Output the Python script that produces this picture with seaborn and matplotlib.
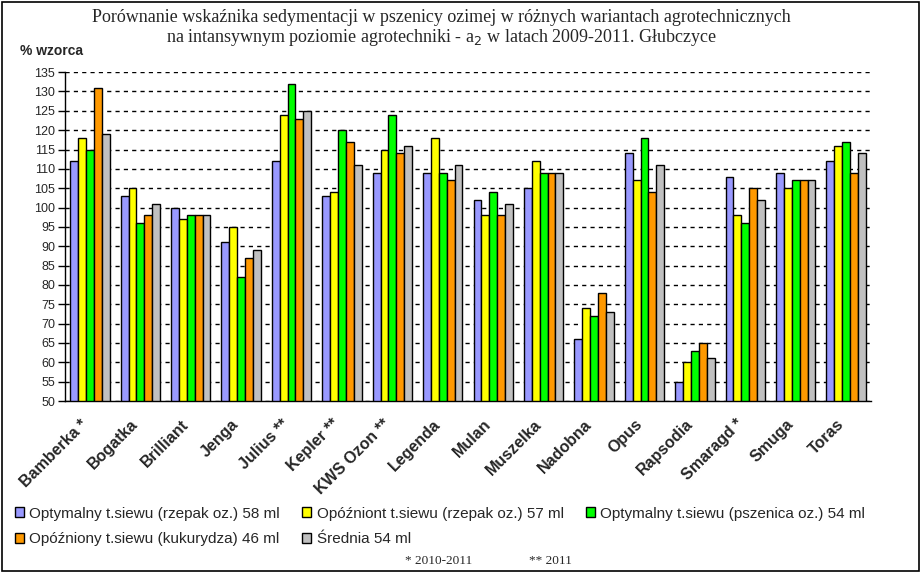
import pandas as pd
import matplotlib
matplotlib.use('Agg')
import matplotlib.pyplot as plt
import matplotlib.patches as mpatches
from matplotlib.transforms import ScaledTranslation
import seaborn as sns

# dane (% wzorca)
odmiany = ['Bamberka *', 'Bogatka', 'Brilliant', 'Jenga', 'Julius **', 'Kepler **',
           'KWS Ozon **', 'Legenda', 'Mulan', 'Muszelka', 'Nadobna', 'Opus',
           'Rapsodia', 'Smaragd *', 'Smuga', 'Toras']
warianty = ['Optymalny t.siewu (rzepak oz.) 58 ml',
            'Opóźniont t.siewu (rzepak oz.) 57 ml',
            'Optymalny t.siewu (pszenica oz.) 54 ml',
            'Opóźniony t.siewu (kukurydza) 46 ml',
            'Średnia 54 ml']
opt_rzepak = [112, 103, 100, 91, 112, 103, 109, 109, 102, 105, 66, 114, 55, 108, 109, 112]
opoz_rzepak = [118, 105, 97, 95, 124, 104, 115, 118, 98, 112, 74, 107, 60, 98, 105, 116]
opt_pszenica = [115, 96, 98, 82, 132, 120, 124, 109, 104, 109, 72, 118, 63, 96, 107, 117]
opoz_kukurydza = [131, 98, 98, 87, 123, 117, 114, 107, 98, 109, 78, 104, 65, 105, 107, 109]
srednia = [119, 101, 98, 89, 125, 111, 116, 111, 101, 109, 73, 111, 61, 102, 107, 114]
y_ticks = list(range(50, 136, 5))

kolory = ['#9999FF', '#FFFF00', '#00FF00', '#FF9900', '#C0C0C0']

serie = [opt_rzepak, opoz_rzepak, opt_pszenica, opoz_kukurydza, srednia]
rows = []
for wariant, wartosci in zip(warianty, serie):
    for odm, v in zip(odmiany, wartosci):
        rows.append({'odmiana': odm, 'wariant': wariant, 'wartosc': v})
df = pd.DataFrame(rows)

sns.set_style('white')
plt.rcParams['font.family'] = ['Liberation Sans', 'DejaVu Sans']

fig = plt.figure(figsize=(9.24, 5.77), dpi=100)
ax = fig.add_axes([0.070, 0.305, 0.873, 0.570])

sns.barplot(data=df, x='odmiana', y='wartosc', hue='wariant', palette=kolory,
            order=odmiany, hue_order=warianty, edgecolor='black', linewidth=1,
            width=0.78, gap=0, saturation=1, legend=False, ax=ax)

ax.set_ylim(50, 135)
ax.set_xlim(-0.5, len(odmiany) - 0.5)
ax.set_yticks(y_ticks)
ax.set_yticklabels([str(t) for t in y_ticks], fontsize=9)
ax.yaxis.grid(True, color='black', linestyle=(0, (3, 3)), linewidth=1)
ax.set_axisbelow(True)
ax.set_xlabel('')
ax.set_ylabel('')
for s in ['top', 'right']:
    ax.spines[s].set_visible(False)
for s in ['left', 'bottom']:
    ax.spines[s].set_color('black')
    ax.spines[s].set_linewidth(1)

# etykiety odmian i znaczniki między grupami
ax.set_xticks(range(len(odmiany)))
ax.set_xticklabels(odmiany, rotation=45, ha='right', va='top', rotation_mode='anchor',
                   fontsize=11.5, fontweight='bold')
ax.tick_params(axis='x', which='major', length=0, pad=4)
ax.set_xticks([i - 0.5 for i in range(len(odmiany) + 1)], minor=True)
ax.tick_params(axis='x', which='minor', length=5, width=1, color='black', direction='out')
ax.tick_params(axis='y', length=5, width=1, color='black', direction='out', left=True, pad=2)
przesuniecie = ScaledTranslation(-0.10, -0.10, fig.dpi_scale_trans)
for lab in ax.get_xticklabels():
    lab.set_transform(lab.get_transform() + przesuniecie)

fig.text(0.478, 0.970, 'Porównanie wskaźnika sedymentacji w pszenicy ozimej w różnych wariantach agrotechnicznych',
         ha='center', va='center', fontsize=13, family='Liberation Serif')
fig.text(0.478, 0.935, 'na intansywnym poziomie agrotechniki - a$_2$ w latach 2009-2011. Głubczyce',
         ha='center', va='center', fontsize=13, family='Liberation Serif')
fig.text(0.022, 0.912, '% wzorca', ha='left', va='center', fontsize=10, fontweight='bold')

uchwyty = [mpatches.Patch(facecolor=c, edgecolor='black', linewidth=1, label=w)
           for c, w in zip(kolory, warianty)]
kolejnosc = [0, 3, 1, 4, 2]
fig.legend(handles=[uchwyty[i] for i in kolejnosc], loc='upper left',
           bbox_to_anchor=(0.016, 0.122), ncol=3, frameon=False,
           fontsize=11, handlelength=0.6, handleheight=0.6, handletextpad=0.35,
           columnspacing=1.45, labelspacing=0.75, borderaxespad=0, borderpad=0)

fig.text(0.438, 0.022, '* 2010-2011', fontsize=9.5, family='Liberation Serif')
fig.text(0.573, 0.022, '** 2011', fontsize=9.5, family='Liberation Serif')

fig.patches.append(mpatches.Rectangle((0.002, 0.01), 0.993, 0.987, transform=fig.transFigure,
                                      fill=False, edgecolor='black', linewidth=1.2))

fig.savefig('out.png', dpi=100)
